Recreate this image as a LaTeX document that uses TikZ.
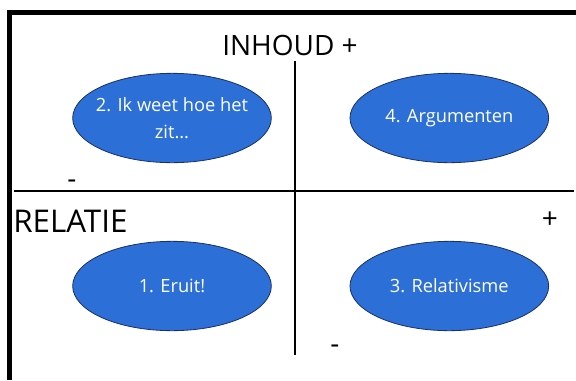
\documentclass[tikz,border=0pt]{standalone}
\usepackage{fontspec}
\setmainfont{Open Sans}
\usetikzlibrary{shapes.geometric, positioning}
\definecolor{quadblue}{RGB}{44,111,214}
\definecolor{quadedge}{RGB}{28,48,104}

\begin{document}
\begin{tikzpicture}[x=0.75pt, y=-0.75pt, node distance=2cm, on grid,
        quad/.style={ellipse, draw=quadedge, line width=0.6pt, fill=quadblue,
            text=white, minimum width=149pt, minimum height=67pt, inner sep=0pt,
            align=center, font=\fontsize{13.7}{20.5}\selectfont},
        axis/.style={line width=1.5pt},
        biglabel/.style={font=\fontsize{21}{25}\selectfont, inner sep=0pt}]
        \useasboundingbox (0,0) rectangle (576,380);
        \fill[white] (0,0) rectangle (576,380);
        \draw[line width=3.5pt] (9.5,380) -- (9.5,12.5) -- (576,12.5);

        \coordinate (hl) at (14,191);
        \coordinate (hr) at (574,191);
        \coordinate (vt) at (295,61);
        \coordinate (vb) at (295,355);
        \draw[axis] (hl) -- (hr);
        \draw[axis] (vt) -- (vb);

        \node[quad, inner xsep=-5pt] (q2) at (172,118) {2. Ik weet hoe het\\zit...};
        \node[quad] (q4) [right=208pt of q2] {4. Argumenten};
        \node[quad] (q1) [below=126pt of q2] {1. Eruit!};
        \node[quad] (q3) [right=208pt of q1] {3. Relativisme};

        \node[biglabel, anchor=base] (inhoud) at (290,55) {INHOUD +};
        \node[biglabel, anchor=base west, font=\fontsize{23.5}{28}\selectfont] (relatie) at (13,232) {RELATIE};
        \node[biglabel, anchor=base] (relplus) at (550,228) {+};
        \node[biglabel, anchor=base] (relmin) at (72,188) {-};
        \node[biglabel, anchor=base] (inhmin) at (335,353) {-};
    \end{tikzpicture}
\end{document}
